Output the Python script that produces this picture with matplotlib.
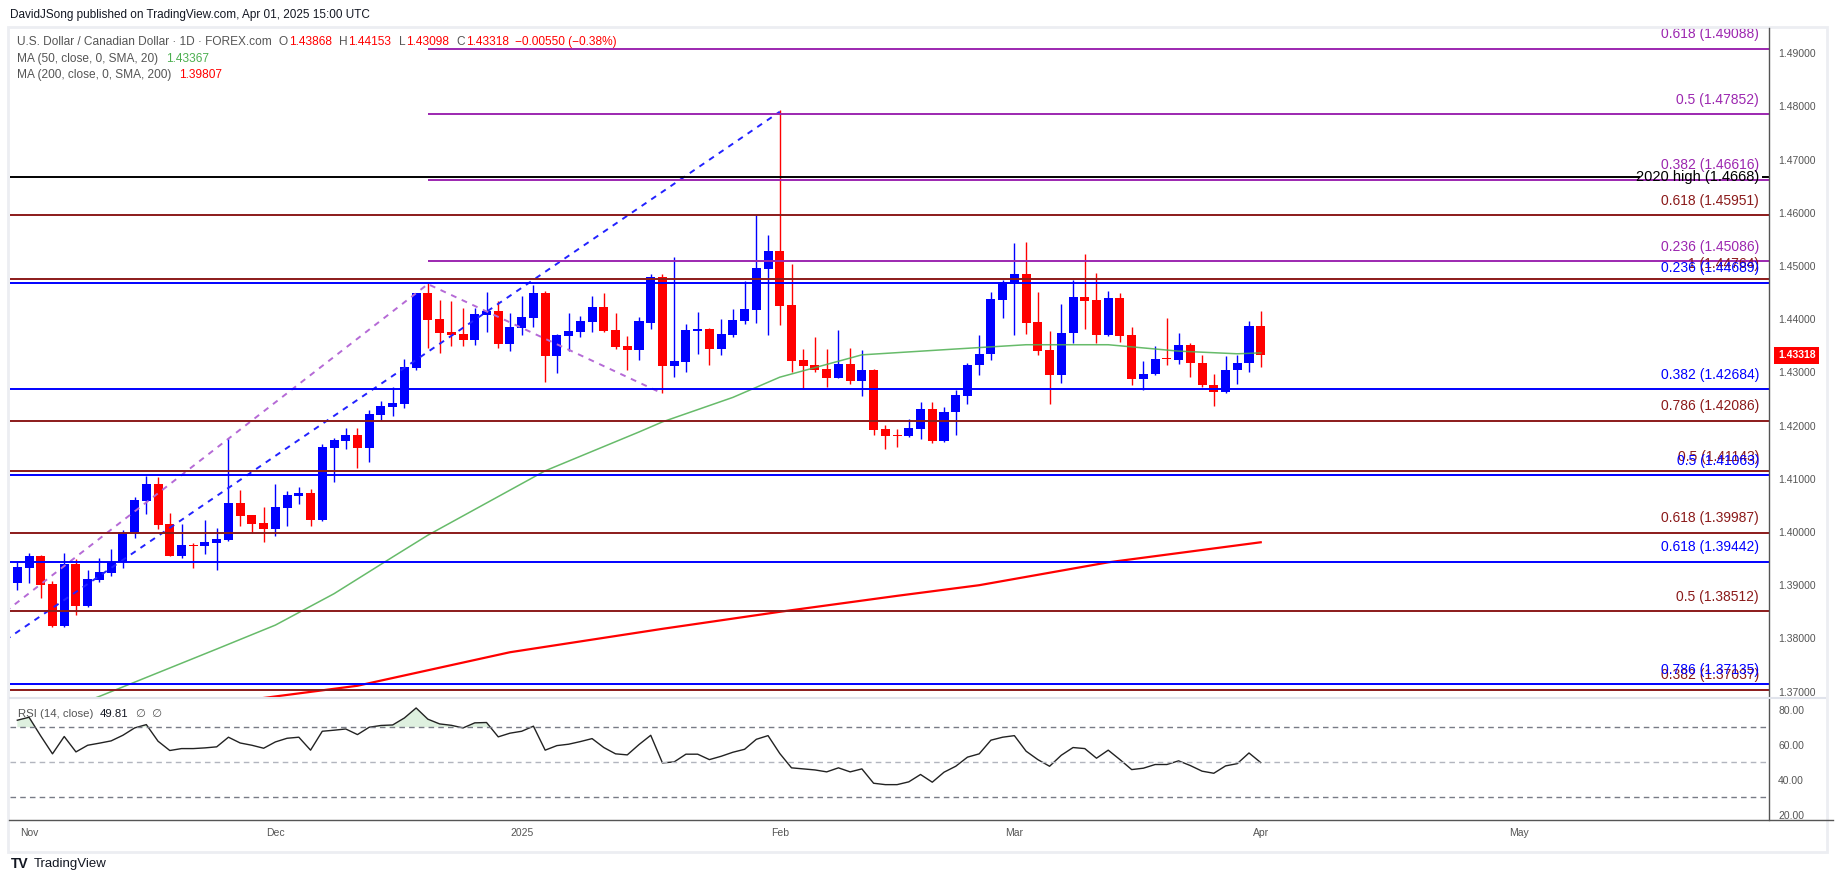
import matplotlib.pyplot as plt
import numpy as np
from matplotlib.lines import Line2D
from matplotlib.patches import Rectangle

plt.rcParams['font.family'] = ['Liberation Sans', 'DejaVu Sans']

W, H = 1835, 883

# daily candles, bar 0 = Oct 31 2024 ... bar 106 = Apr 01 2025
opens = [1.39047, 1.39323, 1.39542, 1.39016, 1.38232, 1.39392, 1.38608, 1.39091, 1.39223, 1.39442,
         1.39956, 1.40583, 1.40897, 1.40144, 1.39549, 1.39756, 1.39737, 1.39787, 1.39850, 1.40539,
         1.40314, 1.40163, 1.40050, 1.40451, 1.40677, 1.40727, 1.40226, 1.41581, 1.41713, 1.41819,
         1.41581, 1.42202, 1.42352, 1.42408, 1.43086, 1.44490, 1.44001, 1.43756, 1.43719, 1.43612,
         1.44083, 1.44152, 1.43537, 1.43838, 1.44026, 1.44490, 1.43311, 1.43688, 1.43763, 1.43951,
         1.44227, 1.43794, 1.43493, 1.43424, 1.43933, 1.44792, 1.43124, 1.43200, 1.43783, 1.43808,
         1.43444, 1.43708, 1.43971, 1.44178, 1.44949, 1.45281, 1.44266, 1.43231, 1.43137, 1.43062,
         1.42899, 1.43156, 1.42842, 1.43043, 1.41933, 1.41815, 1.41808, 1.41939, 1.42309, 1.41714,
         1.42252, 1.42565, 1.43136, 1.43343, 1.44358, 1.44659, 1.44841, 1.43938, 1.43412, 1.42948,
         1.43738, 1.44409, 1.44352, 1.43700, 1.44390, 1.43694, 1.42872, 1.42967, 1.43261, 1.43230,
         1.43506, 1.43186, 1.42772, 1.42628, 1.43042, 1.43173, 1.43868]
highs = [1.39442, 1.39599, 1.39560, 1.39072, 1.39599, 1.39486, 1.39279, 1.39505, 1.39674, 1.40031,
         1.40658, 1.41053, 1.41028, 1.40364, 1.40144, 1.39787, 1.40219, 1.40069, 1.41774, 1.40784,
         1.40314, 1.40464, 1.40897, 1.40765, 1.40840, 1.40803, 1.41649, 1.41763, 1.41951, 1.41951,
         1.42289, 1.42459, 1.42722, 1.43249, 1.44500, 1.44678, 1.44358, 1.44340, 1.44208, 1.44208,
         1.44509, 1.44340, 1.44114, 1.44434, 1.44641, 1.44528, 1.43719, 1.44114, 1.44058, 1.44434,
         1.44490, 1.44114, 1.43688, 1.44039, 1.44849, 1.44849, 1.45175, 1.43908, 1.44134, 1.43833,
         1.44002, 1.44190, 1.44717, 1.45959, 1.45582, 1.47934, 1.45043, 1.43444, 1.43670, 1.43444,
         1.43802, 1.43463, 1.43425, 1.43068, 1.42008, 1.41933, 1.42121, 1.42441, 1.42441, 1.42347,
         1.42672, 1.43186, 1.43694, 1.44503, 1.44728, 1.45424, 1.45443, 1.44503, 1.43769, 1.44277,
         1.44728, 1.45217, 1.44860, 1.44521, 1.44484, 1.43844, 1.43205, 1.43487, 1.44014, 1.43732,
         1.43562, 1.43336, 1.42979, 1.43299, 1.43336, 1.43957, 1.44153]
lows = [1.38909, 1.39047, 1.38752, 1.38220, 1.38213, 1.38439, 1.38589, 1.39060, 1.39172, 1.39317,
        1.39881, 1.40332, 1.40050, 1.39549, 1.39505, 1.39317, 1.39580, 1.39279, 1.39831, 1.40113,
        1.39987, 1.39812, 1.39925, 1.40113, 1.40527, 1.40113, 1.40207, 1.40941, 1.41562, 1.41205,
        1.41317, 1.42108, 1.42183, 1.42333, 1.43048, 1.43462, 1.43368, 1.43500, 1.43500, 1.43518,
        1.43763, 1.43462, 1.43406, 1.43706, 1.43857, 1.42822, 1.42992, 1.43406, 1.43669, 1.43763,
        1.43763, 1.43443, 1.43048, 1.43236, 1.43820, 1.42604, 1.42905, 1.43012, 1.43350, 1.43143,
        1.43331, 1.43670, 1.43914, 1.43933, 1.43708, 1.43896, 1.43012, 1.42692, 1.43012, 1.42729,
        1.42890, 1.42786, 1.42560, 1.41827, 1.41551, 1.41601, 1.41789, 1.41751, 1.41664, 1.41683,
        1.41819, 1.42402, 1.42948, 1.43230, 1.44020, 1.43700, 1.43719, 1.43324, 1.42402, 1.42797,
        1.43550, 1.43813, 1.43550, 1.43690, 1.43568, 1.42760, 1.42672, 1.42960, 1.43136, 1.43155,
        1.42910, 1.42722, 1.42365, 1.42609, 1.42778, 1.43004, 1.43098]
closes = [1.39335, 1.39542, 1.39003, 1.38232, 1.39392, 1.38608, 1.39110, 1.39241, 1.39442, 1.39981,
          1.40596, 1.40897, 1.40125, 1.39549, 1.39749, 1.39743, 1.39806, 1.39862, 1.40539, 1.40301,
          1.40150, 1.40050, 1.40464, 1.40690, 1.40727, 1.40226, 1.41593, 1.41725, 1.41819, 1.41581,
          1.42214, 1.42365, 1.42421, 1.43098, 1.44490, 1.43988, 1.43744, 1.43706, 1.43612, 1.44095,
          1.44152, 1.43537, 1.43851, 1.44039, 1.44490, 1.43311, 1.43700, 1.43775, 1.43963, 1.44227,
          1.43782, 1.43481, 1.43424, 1.43963, 1.44792, 1.43124, 1.43212, 1.43795, 1.43820, 1.43444,
          1.43720, 1.43983, 1.44190, 1.44962, 1.45281, 1.44253, 1.43218, 1.43124, 1.43043, 1.42899,
          1.43156, 1.42842, 1.43043, 1.41921, 1.41808, 1.41808, 1.41952, 1.42309, 1.41714, 1.42252,
          1.42584, 1.43148, 1.43355, 1.44371, 1.44691, 1.44841, 1.43926, 1.43399, 1.42948, 1.43750,
          1.44409, 1.44340, 1.43700, 1.44390, 1.43681, 1.42872, 1.42979, 1.43261, 1.43249, 1.43506,
          1.43173, 1.42760, 1.42628, 1.43054, 1.43186, 1.43863, 1.43318]

rsi = [74.0, 75.7, 65.0, 54.8, 64.7, 55.9, 59.7, 60.9, 62.2, 65.4, 69.6, 71.5, 62.0, 56.7, 57.8,
       57.8, 58.2, 58.8, 64.3, 61.0, 59.7, 58.0, 61.6, 63.7, 64.3, 56.9, 67.7, 68.3, 69.0, 65.8,
       70.0, 71.0, 71.3, 75.3, 81.0, 74.6, 71.9, 71.1, 69.6, 72.5, 72.7, 64.5, 66.6, 67.7, 70.6,
       56.9, 59.5, 60.3, 61.8, 63.5, 58.4, 54.8, 54.2, 60.1, 65.4, 49.6, 50.2, 54.6, 54.6, 51.5,
       53.4, 55.7, 57.4, 63.1, 65.2, 55.0, 46.8, 46.2, 45.6, 44.5, 46.8, 44.5, 46.2, 38.0, 37.2,
       37.2, 38.8, 43.0, 38.6, 44.3, 47.7, 52.9, 54.8, 62.6, 64.3, 65.2, 56.3, 51.5, 47.7, 54.0,
       58.4, 57.8, 52.3, 56.9, 51.5, 45.8, 46.6, 48.7, 48.7, 50.8, 48.1, 44.9, 43.7, 47.9, 49.2,
       55.3, 49.81]

# moving averages at a few bars
ma50_x = [2, 7, 17, 22, 27, 32, 35, 45, 53, 55, 61, 65, 72, 80, 86, 93, 99, 104, 106]
ma50 = [1.3650, 1.3691, 1.3780, 1.3825, 1.3884, 1.3953, 1.3994, 1.4115, 1.4188, 1.4207,
        1.4253, 1.4291, 1.4333, 1.4344, 1.4352, 1.4352, 1.4340, 1.4335, 1.43367]
ma200_x = [15, 21, 29, 42, 55, 65, 75, 82, 93, 106]
ma200 = [1.3672, 1.3688, 1.3711, 1.3774, 1.3818, 1.3850, 1.3880, 1.3900, 1.3943, 1.39807]

month_pos = [1, 22, 43, 65, 85, 106, 128]
month_labels = ['Nov', 'Dec', '2025', 'Feb', 'Mar', 'Apr', 'May']

brown_levels = [1.45951, 1.44764, 1.42086, 1.41143, 1.39987, 1.38512, 1.37037]
brown_names = ['0.618', '1', '0.786', '0.5', '0.618', '0.5', '0.382']
blue_levels = [1.44689, 1.42684, 1.41063, 1.39442, 1.37135]
blue_names = ['0.236', '0.382', '0.5', '0.618', '0.786']
purple_levels = [1.49088, 1.47852, 1.46616, 1.45086]
purple_names = ['0.618', '0.5', '0.382', '0.236']
purple_start = 35
high_2020 = 1.4668

trend_blue_x = [-1, 65]
trend_blue_y = [1.37970, 1.47900]
trend_purple_x = [-1, 35, 55]
trend_purple_y = [1.38506, 1.44660, 1.42604]

BROWN = '#8b1a1a'
BLUE = '#0000ff'
PURPLE = '#9c27b0'
RED = '#ff0000'
GRAY = '#555555'

XMIN, XMAX = -0.622, 149.33
LABEL_X = 148.48

fig = plt.figure(figsize=(W / 100, H / 100), dpi=100)
renderer = fig.canvas.get_renderer()


def px_text(x, y, s, **kw):
    return fig.text(x / W, 1 - y / H, s, va='center', **kw)


def px_row(x, y, parts, size):
    # lay out coloured pieces one after another on one line
    for s, col, gap in parts:
        t = px_text(x, y, s, color=col, fontsize=size)
        x = t.get_window_extent(renderer=renderer).x1 + gap


def px_line(x0, y0, x1, y1, **kw):
    fig.add_artist(Line2D([x0 / W, x1 / W], [1 - y0 / H, 1 - y1 / H],
                          transform=fig.transFigure, **kw))


fig.add_artist(Rectangle((8 / W, 1 - 852 / H), 1819 / W, 825 / H, transform=fig.transFigure,
                         fill=False, edgecolor='#eceef2', lw=2))

ax = fig.add_axes([10 / W, 1 - 698 / H, 1759 / W, 670 / H])
axr = fig.add_axes([10 / W, 1 - 820 / H, 1759 / W, 122 / H])

# ---- main panel
x = np.arange(len(opens))
o = np.array(opens)
c = np.array(closes)
cols = np.where(c >= o, BLUE, RED)
ax.vlines(x, lows, highs, colors=cols, lw=1.0, zorder=2)
body_h = np.maximum(np.abs(c - o), 0.0002)
ax.bar(x, body_h, bottom=np.minimum(o, c), width=0.77, color=cols, linewidth=0, zorder=2)

ax.plot(ma50_x, ma50, color='#4caf50', lw=1.1, alpha=0.85, zorder=2)
ax.plot(ma200_x, ma200, color=RED, lw=1.6, zorder=2)

ax.plot(trend_blue_x, trend_blue_y, color='#2222ff', lw=1.4, ls=(0, (3, 3)), zorder=3)
ax.plot(trend_purple_x, trend_purple_y, color='#b56ad6', lw=1.4, ls=(0, (3, 3)), zorder=3)


def level(price, name, color, start):
    ax.hlines(price, start, XMAX, color=color, lw=1.4, zorder=3)
    ax.annotate(f'{name} ({price:.5f})', xy=(LABEL_X, price), xytext=(0, 10.5),
                textcoords='offset points', ha='right', va='center', color=color,
                fontsize=10, zorder=4)


for p, n in zip(purple_levels, purple_names):
    level(p, n, PURPLE, purple_start)
for p, n in zip(brown_levels, brown_names):
    level(p, n, BROWN, XMIN)
for p, n in zip(blue_levels, blue_names):
    level(p, n, BLUE, XMIN)

ax.hlines(high_2020, XMIN, 138.3, color='black', lw=1.4, zorder=3)
ax.hlines(high_2020, 148.7, XMAX, color='black', lw=1.4, zorder=3)
ax.text(LABEL_X, high_2020, f'2020 high ({high_2020})', ha='right', va='center',
        color='black', fontsize=10.5, zorder=4)

ax.set_xlim(XMIN, XMAX)
ax.set_ylim(1.368797, 1.494737)
ax.yaxis.tick_right()
yt = np.arange(1.37, 1.4951, 0.01)
ax.set_yticks(yt)
ax.set_yticklabels([f'{v:.5f}' for v in yt])
ax.set_xticks([])
ax.tick_params(axis='y', length=0, pad=6.5, labelsize=7.5, labelcolor=GRAY)
for s in ax.spines.values():
    s.set_visible(False)

ax.annotate(f'{closes[-1]:.5f}', xy=(1.0, closes[-1]), xycoords=('axes fraction', 'data'),
            xytext=(6.5, 0), textcoords='offset points', ha='left', va='center',
            color='white', fontweight='bold', fontsize=7.5,
            bbox=dict(boxstyle='square,pad=0.35', fc=RED, ec='none'), annotation_clip=False)

# ---- RSI panel
r = np.array(rsi)
xr = np.arange(len(rsi))
axr.fill_between(xr, r, 70, where=r > 70, interpolate=True, color='#4caf50', alpha=0.18, lw=0)
axr.plot(xr, r, color='#222222', lw=1.0)
for lv, cl in [(70, '#787b86'), (50, '#b2b5be'), (30, '#787b86')]:
    axr.axhline(lv, color=cl, lw=1.0, ls=(0, (4, 3)))
axr.set_xlim(XMIN, XMAX)
axr.set_ylim(17.0, 86.7)
axr.yaxis.tick_right()
axr.set_yticks([20, 40, 60, 80])
axr.set_yticklabels(['20.00', '40.00', '60.00', '80.00'])
axr.set_xticks(month_pos)
axr.set_xticklabels(month_labels)
axr.tick_params(axis='y', length=0, pad=6.5, labelsize=7.5, labelcolor=GRAY)
axr.tick_params(axis='x', length=0, pad=6, labelsize=7.5, labelcolor=GRAY)
for s in axr.spines.values():
    s.set_visible(False)

# frame lines
px_line(1769, 28, 1769, 820, color='#555555', lw=1.0)
px_line(9, 820, 1833, 820, color='#555555', lw=1.0)
px_line(10, 698, 1825, 698, color='#e0e3eb', lw=1.5)

# ---- header
px_text(10, 15, 'DavidJSong published on TradingView.com, Apr 01, 2025 15:00 UTC',
        color='#131722', fontsize=8.45)
px_row(17, 42, [('U.S. Dollar / Canadian Dollar · 1D · FOREX.com', GRAY, 7),
                ('O', GRAY, 1), (f'{opens[-1]:.5f}', RED, 7),
                ('H', GRAY, 1), (f'{highs[-1]:.5f}', RED, 7),
                ('L', GRAY, 1), (f'{lows[-1]:.5f}', RED, 7),
                ('C', GRAY, 1), (f'{closes[-1]:.5f}', RED, 6),
                ('\u22120.00550 (\u22120.38%)', RED, 0)], 8.6)
px_row(17, 59, [('MA (50, close, 0, SMA, 20)', GRAY, 8),
                (f'{ma50[-1]:.5f}', '#4caf50', 0)], 8.6)
px_row(17, 75, [('MA (200, close, 0, SMA, 200)', GRAY, 8),
                (f'{ma200[-1]:.5f}', RED, 0)], 8.6)

px_row(18, 714, [('RSI (14, close)', GRAY, 6), (f'{rsi[-1]:.2f}', '#131722', 8),
                 ('\u2205  \u2205', GRAY, 0)], 8.2)

# footer
px_text(11, 864, 'TV', color='#131722', fontsize=10, fontweight='heavy')
px_text(34, 864, 'TradingView', color='#131722', fontsize=9.5)

fig.savefig('out.png', dpi=100)
